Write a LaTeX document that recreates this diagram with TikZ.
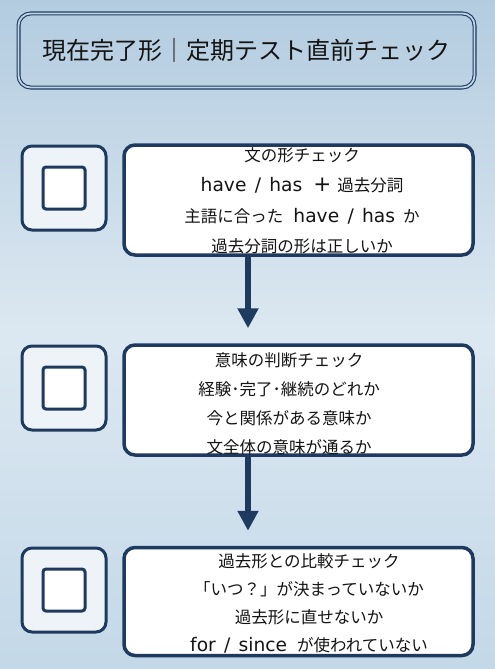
\documentclass[tikz,border=0pt]{standalone}
\usepackage{fontspec}
\newfontfamily\jp{Noto Sans CJK JP}
\newfontfamily\lat{DejaVu Sans}[Scale=1.13, WordSpace=1.4]
\newcommand\en[1]{{\lat #1}}
\usetikzlibrary{arrows.meta}
\definecolor{navy}{HTML}{1F3A5F}
\definecolor{bgtop}{HTML}{B3CCE0}
\definecolor{bgmid}{HTML}{DCE8F1}
\definecolor{bgbot}{HTML}{C3D8E8}
\definecolor{boxfill}{HTML}{EEF3F8}
\definecolor{ink}{HTML}{141414}
\tikzset{
  headbox/.style={draw=navy, double=bgtop!70!bgmid, double distance=1.8pt, line width=1.1pt,
    rounded corners=12pt, minimum width=456pt, minimum height=74pt,
    text=ink, font=\jp\fontsize{24}{28}\selectfont},
  checkbox/.style={draw=navy, line width=3pt, fill=boxfill, rounded corners=10pt,
    minimum width=84pt, minimum height=84pt},
  tickbox/.style={draw=navy, line width=3pt, fill=white, rounded corners=3pt,
    minimum width=42pt, minimum height=42pt},
  stepbox/.style={draw=navy, line width=3.5pt, fill=white, rounded corners=11pt,
    minimum width=349pt, minimum height=110pt},
  steptext/.style={align=center, text=ink, inner sep=0pt},
  flow/.style={draw=navy, line width=5.5pt, -{Triangle[width=20pt,length=20pt]},
    shorten >=15pt}
}
\begin{document}
\begin{tikzpicture}[x=1pt,y=-1pt]
\useasboundingbox (0,0) rectangle (495,669);
\fill[top color=bgtop, bottom color=bgbot, middle color=bgmid] (0,0) rectangle (495,669);

\node[headbox] (head) at (246.5,50.5) {現在完了形｜定期テスト直前チェック};

\node[checkbox] (chk1) at (64,188) {};
\node[tickbox] (tick1) at (chk1) {};
\node[stepbox] (step1) at (298.5,200) {};
\node[steptext, font=\jp\fontsize{16.5}{30.5}\selectfont] (txt1) at (302,201)
  {文の形チェック\\
   \en{have / has}\hspace{11pt}{\lat\fontsize{19}{20}\selectfont +}\hspace{6pt}過去分詞\\
   主語に合った\hspace{10pt}\en{have / has}\hspace{8pt}か\\
   過去分詞の形は正しいか};

\node[checkbox] (chk2) at (64,388) {};
\node[tickbox] (tick2) at (chk2) {};
\node[stepbox] (step2) at (298.5,400) {};
\node[steptext, font=\jp\fontsize{16.5}{29}\selectfont] (txt2) at (289,403.5)
  {意味の判断チェック\\
   経験･完了･継続のどれか\\
   今と関係がある意味か\\
   文全体の意味が通るか};

\node[checkbox] (chk3) at (64,590) {};
\node[tickbox] (tick3) at (chk3) {};
\node[stepbox, minimum height=108pt] (step3) at (298.5,601.5) {};
\node[steptext, font=\jp\fontsize{16.5}{28}\selectfont] (txt3) at (309,603.5)
  {過去形との比較チェック\\
   「いつ？」が決まっていないか\\
   過去形に直せないか\\
   \en{for / since}\hspace{10pt}が使われていない};

\coordinate (ax) at (248,0);
\draw[flow] (step1.south -| ax) -- (step2.north -| ax);
\draw[flow] (step2.south -| ax) -- (step3.north -| ax);
\end{tikzpicture}
\end{document}
